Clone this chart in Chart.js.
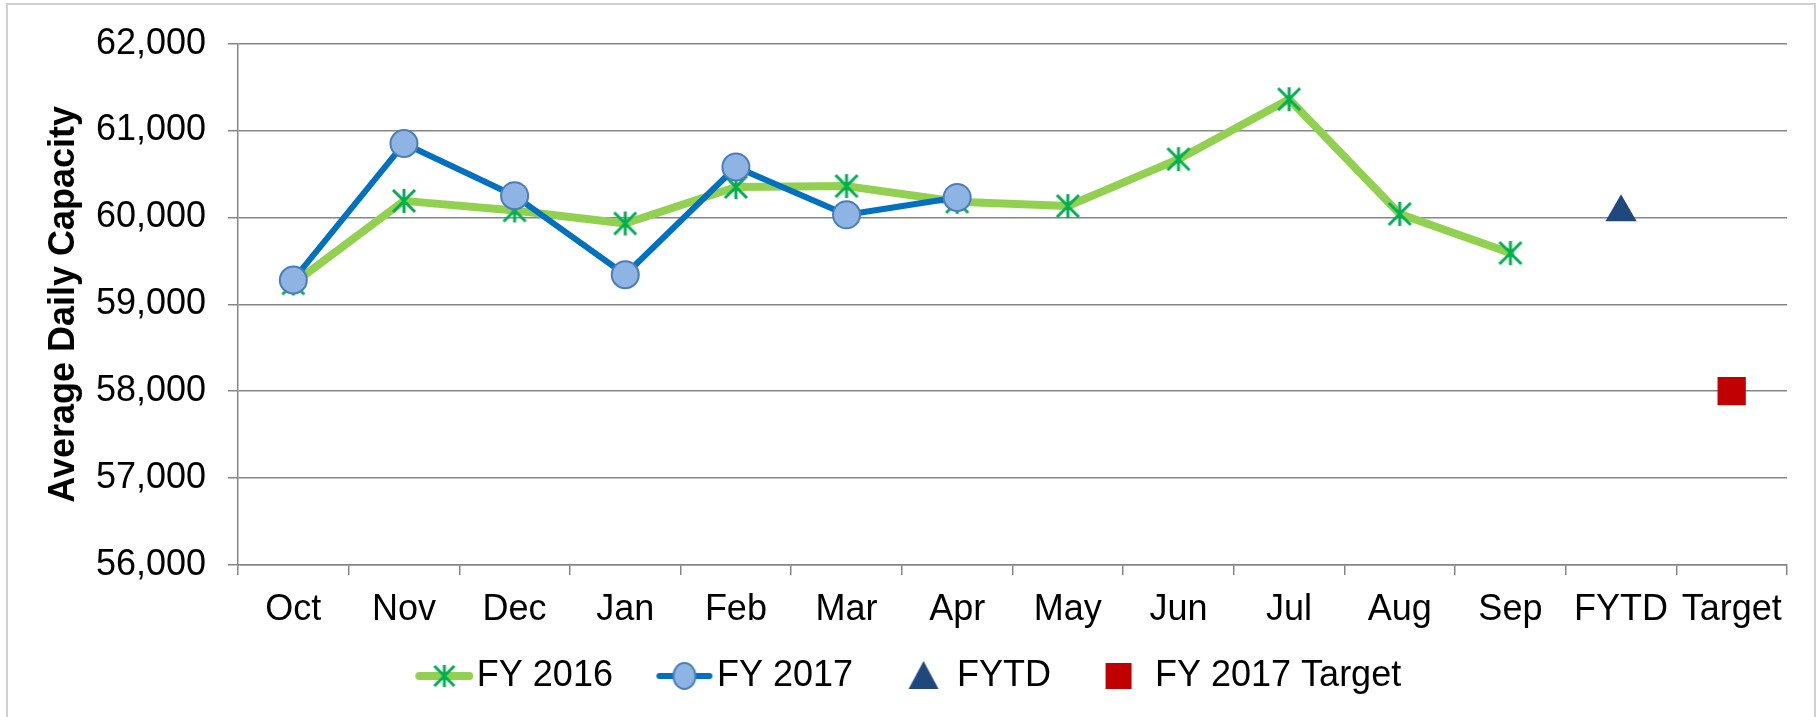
<!DOCTYPE html>
<html>
<head>
<meta charset="utf-8">
<script src="https://cdn.jsdelivr.net/npm/chart.js@4/dist/chart.umd.min.js"></script>
<style>
  html, body { margin: 0; padding: 0; background: #fff; }
  canvas { display: block; }
</style>
</head>
<body>
<canvas id="capacityChart" width="1820" height="717"></canvas>
<script>
// Datos del gráfico
const categories = ['Oct', 'Nov', 'Dec', 'Jan', 'Feb', 'Mar', 'Apr', 'May', 'Jun', 'Jul', 'Aug', 'Sep', 'FYTD', 'Target'];
const fy2016 = [59240, 60190, 60080, 59930, 60350, 60360, 60180, 60130, 60670, 61360, 60040, 59590, null, null];
const fy2017 = [59280, 60850, 60250, 59340, 60580, 60030, 60230, null, null, null, null, null, null, null];
const fytd = [null, null, null, null, null, null, null, null, null, null, null, null, 60060, null];
const target = [null, null, null, null, null, null, null, null, null, null, null, null, null, 58000];
const yTicks = [56000, 57000, 58000, 59000, 60000, 61000, 62000];

const FONT = '"Liberation Sans", Arial, sans-serif';
const GRID = '#868686';

// Marcador tipo asterisco (vertical + X), como el de Excel
function starCanvas(size, color, lw) {
    const c = document.createElement('canvas');
    c.width = size; c.height = size;
    const g = c.getContext('2d');
    g.strokeStyle = color; g.lineWidth = lw;
    const m = lw / 2 + 0.5;
    g.beginPath();
    g.moveTo(size / 2, m); g.lineTo(size / 2, size - m);
    g.moveTo(m + 1, m + 1); g.lineTo(size - m - 1, size - m - 1);
    g.moveTo(size - m - 1, m + 1); g.lineTo(m + 1, size - m - 1);
    g.stroke();
    return c;
}

// Iconos de la leyenda: lienzo de 88 px, el dibujo va pegado a la derecha
const ICON_W = 88, ICON_H = 32;
function legendIcon(draw) {
    const c = document.createElement('canvas');
    c.width = ICON_W; c.height = ICON_H;
    draw(c.getContext('2d'), ICON_H / 2);
    return c;
}

const star = starCanvas(28, '#00B050', 3);

const legendIcons = [
    legendIcon((g, y) => {
        g.strokeStyle = '#92D050'; g.lineWidth = 8; g.lineCap = 'round';
        g.beginPath(); g.moveTo(34, y); g.lineTo(84, y); g.stroke();
        g.drawImage(starCanvas(26, '#00B050', 3), 59 - 13, y - 13);
    }),
    legendIcon((g, y) => {
        g.strokeStyle = '#0070C0'; g.lineWidth = 6; g.lineCap = 'round';
        g.beginPath(); g.moveTo(34, y); g.lineTo(84, y); g.stroke();
        g.beginPath(); g.ellipse(59, y, 11, 13, 0, 0, Math.PI * 2);
        g.fillStyle = '#8EB4E3'; g.fill();
        g.lineWidth = 2; g.strokeStyle = '#4A7EBB'; g.stroke();
    }),
    legendIcon((g, y) => {
        g.fillStyle = '#1F497D';
        g.beginPath(); g.moveTo(58, y - 15); g.lineTo(73, y + 13); g.lineTo(43, y + 13); g.closePath(); g.fill();
    }),
    legendIcon((g, y) => {
        g.fillStyle = '#C00000'; g.fillRect(42, y - 13, 26, 26);
    })
];

// Borde exterior del gráfico
const outerBorder = {
    id: 'outerBorder',
    beforeDraw(chart) {
        const ctx = chart.ctx;
        ctx.save();
        ctx.strokeStyle = '#D0D0D0';
        ctx.lineWidth = 2;
        ctx.strokeRect(7, 4, 1808, 760);
        ctx.restore();
    }
};

new Chart(document.getElementById('capacityChart').getContext('2d'), {
    type: 'line',
    data: {
        labels: categories,
        datasets: [
            {
                label: 'FY 2016',
                data: fy2016,
                order: 2,
                borderColor: '#92D050',
                borderWidth: 8,
                borderJoinStyle: 'round',
                borderCapStyle: 'round',
                pointStyle: star,
                pointRadius: 14,
                tension: 0
            },
            {
                label: 'FY 2017',
                data: fy2017,
                order: 1,
                borderColor: '#0070C0',
                borderWidth: 6,
                borderJoinStyle: 'round',
                borderCapStyle: 'round',
                pointStyle: 'circle',
                pointRadius: 13.5,
                pointBackgroundColor: '#8EB4E3',
                pointBorderColor: '#4A7EBB',
                pointBorderWidth: 2,
                tension: 0
            },
            {
                label: 'FYTD',
                data: fytd,
                order: 0,
                showLine: false,
                pointStyle: 'triangle',
                pointRadius: 18,
                pointBackgroundColor: '#1F497D',
                pointBorderColor: '#1F497D',
                pointBorderWidth: 0
            },
            {
                label: 'FY 2017 Target',
                data: target,
                order: 0,
                showLine: false,
                pointStyle: 'rect',
                pointRadius: 20,
                pointBackgroundColor: '#C00000',
                pointBorderColor: '#C00000',
                pointBorderWidth: 0
            }
        ]
    },
    options: {
        responsive: false,
        animation: false,
        layout: { padding: { left: 14, right: 33, top: 40, bottom: 13 } },
        plugins: {
            tooltip: { enabled: false },
            legend: {
                position: 'bottom',
                labels: {
                    usePointStyle: true,
                    pointStyleWidth: 59,
                    padding: 27,
                    color: '#000',
                    font: { family: FONT, size: 36 },
                    generateLabels: (chart) => chart.data.datasets.map((ds, i) => ({
                        text: ds.label,
                        pointStyle: legendIcons[i],
                        datasetIndex: i,
                        hidden: !chart.isDatasetVisible(i),
                        fillStyle: 'transparent',
                        strokeStyle: 'transparent',
                        lineWidth: 0,
                        fontColor: '#000'
                    }))
                }
            }
        },
        scales: {
            x: {
                offset: true,
                afterFit: (scale) => { scale.height = 66; },
                grid: { display: true, drawOnChartArea: false, drawTicks: true, tickLength: 10, color: GRID, lineWidth: 1.5, offset: true },
                border: { display: true, color: GRID, width: 1.5 },
                ticks: { autoSkip: false, maxRotation: 0, padding: 13, color: '#000', font: { family: FONT, size: 36 } }
            },
            y: {
                min: yTicks[0],
                max: yTicks[yTicks.length - 1],
                afterFit: (scale) => { scale.width = 224; },
                afterBuildTicks: (scale) => { scale.ticks = yTicks.map(v => ({ value: v })); },
                grid: { color: GRID, lineWidth: 1.5, tickLength: 10 },
                border: { display: true, color: GRID, width: 1.5 },
                ticks: {
                    padding: 22,
                    color: '#000',
                    font: { family: FONT, size: 36 },
                    callback: (v) => Number(v).toLocaleString('en-US')
                },
                title: {
                    display: true,
                    text: 'Average Daily Capacity',
                    color: '#000',
                    padding: { top: 28, bottom: 0 },
                    font: { family: FONT, size: 36, weight: 'bold' }
                }
            }
        }
    },
    plugins: [outerBorder]
});
</script>
</body>
</html>
